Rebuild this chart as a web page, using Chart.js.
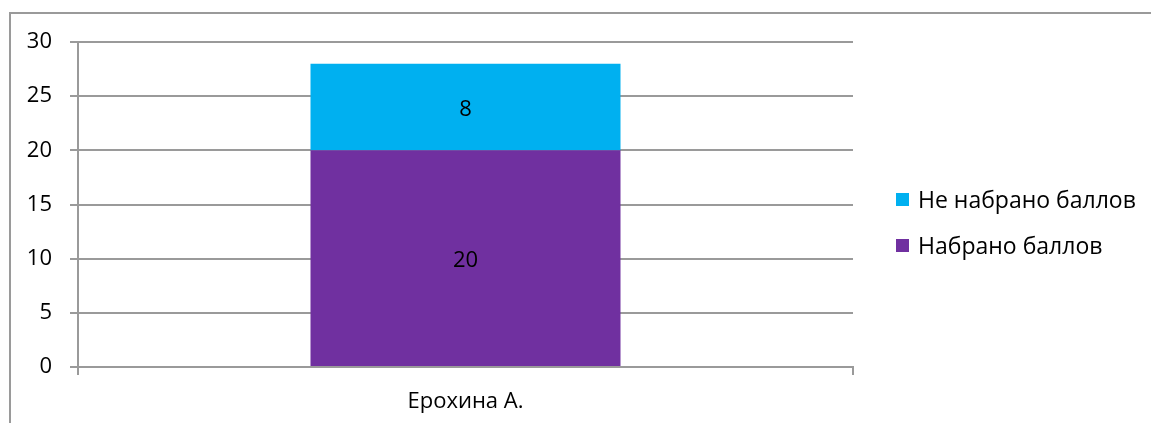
<!DOCTYPE html>
<html lang="ru">
<head>
  <meta charset="UTF-8">
  <title>Баллы</title>
  <script src="https://cdn.jsdelivr.net/npm/chart.js"></script>
  <style>
    body {
      margin: 0;
      background: #fff;
      font-family: 'Open Sans', sans-serif;
    }

    .wrap {
      position: relative;
      width: 1151px;
      height: 423px;
      overflow: hidden;
    }

    .frame {
      position: absolute;
      left: 9px;
      top: 12px;
      width: 1200px;
      height: 500px;
      border-top: 2px solid #9a9a9a;
      border-left: 2px solid #9a9a9a;
      box-sizing: border-box;
    }

    canvas {
      position: absolute;
      left: 0;
      top: 0;
    }

    .legend {
      position: absolute;
      left: 896px;
      top: 186px;
      font-size: 23px;
      color: #000;
    }

    .legend div {
      display: flex;
      align-items: center;
      height: 26px;
      margin-bottom: 20px;
      white-space: nowrap;
    }

    .legend span.box {
      display: inline-block;
      width: 13px;
      height: 13px;
      margin-right: 9px;
    }
  </style>
</head>
<body>
  <div class="wrap">
    <div class="frame"></div>
    <canvas id="chart" width="1151" height="423"></canvas>
    <div class="legend" id="legend"></div>
  </div>

  <script>
    const categories = ["Ерохина А."];
    const scored = [20];
    const notScored = [8];
    const yTicks = [0, 5, 10, 15, 20, 25, 30];

    const seriesNames = ["Набрано баллов", "Не набрано баллов"];
    const seriesColors = ["#7030A0", "#00B0F0"];

    const font = { family: "'Open Sans', sans-serif", size: 22 };

    // подписи значений в центре сегментов
    const valueLabels = {
      id: "valueLabels",
      afterDatasetsDraw(chart) {
        const ctx = chart.ctx;
        ctx.save();
        ctx.font = "22px 'Open Sans', sans-serif";
        ctx.fillStyle = "#000";
        ctx.textAlign = "center";
        ctx.textBaseline = "middle";
        chart.data.datasets.forEach((ds, i) => {
          chart.getDatasetMeta(i).data.forEach((bar, j) => {
            const p = bar.getCenterPoint();
            ctx.fillText(String(ds.data[j]), p.x, p.y + 3);
          });
        });
        ctx.restore();
      }
    };

    const chart = new Chart(document.getElementById("chart"), {
      type: "bar",
      data: {
        labels: categories,
        datasets: [
          { label: seriesNames[0], data: scored, backgroundColor: seriesColors[0] },
          { label: seriesNames[1], data: notScored, backgroundColor: seriesColors[1] }
        ]
      },
      options: {
        responsive: false,
        animation: false,
        devicePixelRatio: 1,
        categoryPercentage: 1,
        barPercentage: 0.4,
        layout: { padding: { left: 0, right: 298, top: 42, bottom: 0 } },
        plugins: {
          legend: { display: false },
          tooltip: { enabled: false }
        },
        scales: {
          x: {
            stacked: true,
            afterFit(s) { s.height = 56; },
            grid: {
              offset: true,
              drawOnChartArea: false,
              drawTicks: true,
              tickLength: 8,
              color: "#9a9a9a",
              lineWidth: 2
            },
            border: { display: true, color: "#9a9a9a", width: 2 },
            ticks: { color: "#000", font, padding: 14 }
          },
          y: {
            stacked: true,
            min: 0,
            max: 30,
            afterFit(s) { s.width = 78; },
            afterBuildTicks(s) { s.ticks = yTicks.map(v => ({ value: v })); },
            grid: { color: "#9a9a9a", lineWidth: 2, tickLength: 8 },
            border: { display: true, color: "#9a9a9a", width: 2 },
            ticks: { color: "#000", font, padding: 18 }
          }
        }
      },
      plugins: [valueLabels]
    });

    // легенда: верхний ряд сверху
    const legend = document.getElementById("legend");
    chart.data.datasets.slice().reverse().forEach(ds => {
      const row = document.createElement("div");
      const box = document.createElement("span");
      box.className = "box";
      box.style.background = ds.backgroundColor;
      row.appendChild(box);
      row.appendChild(document.createTextNode(ds.label));
      legend.appendChild(row);
    });
  </script>
</body>
</html>
